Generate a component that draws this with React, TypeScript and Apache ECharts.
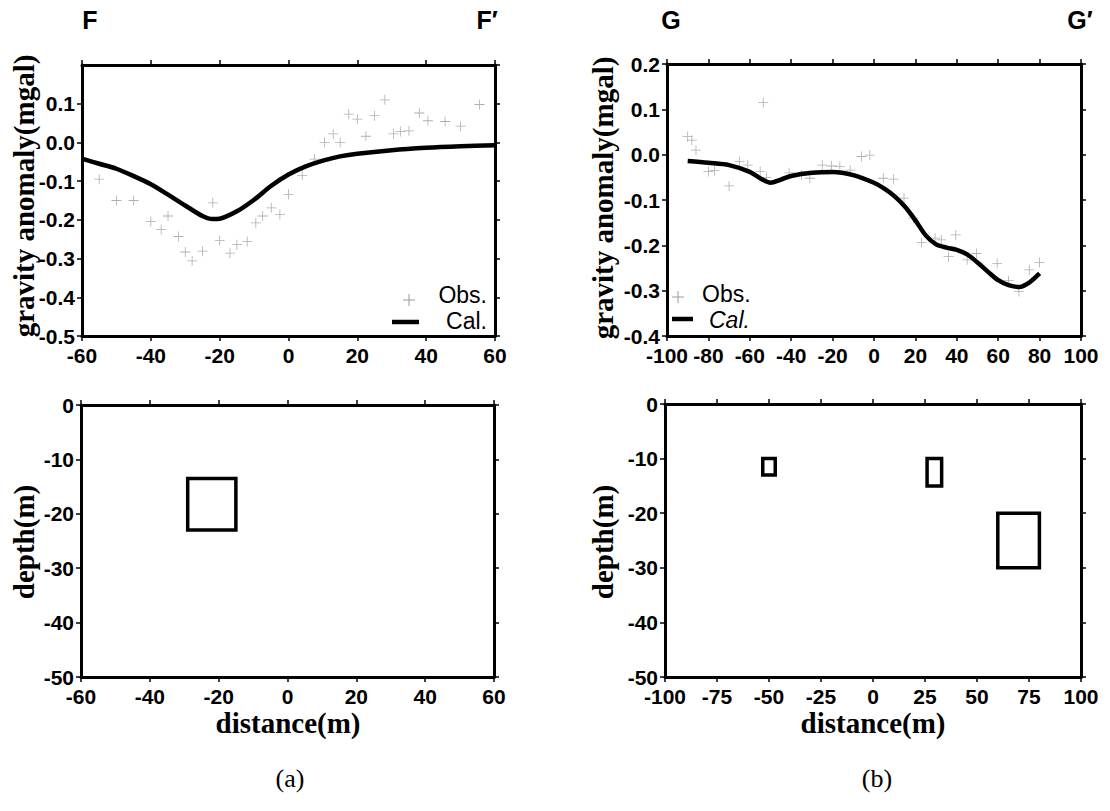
import React, { useEffect, useRef } from "react";
import * as echarts from "echarts";

// ---- Data ----
// Profile F-F' (panel a)
const fCalX = [-60, -55, -50, -45, -40, -35, -30, -25, -22, -20, -15, -10, -5, 0, 5, 10, 15, 20, 30, 40, 50, 60];
const fCalY = [-0.042, -0.055, -0.068, -0.087, -0.108, -0.135, -0.163, -0.19, -0.198, -0.197, -0.178, -0.148, -0.112, -0.083, -0.062, -0.047, -0.036, -0.029, -0.02, -0.014, -0.01, -0.007];
const fObsX = [-55, -50, -45, -40, -37, -35, -32, -30, -28, -25, -22, -20, -17, -15, -12, -9.5, -7.5, -5, -2.5, 0, 4, 7.5, 10.5, 13, 15, 17.5, 20, 22.5, 25, 28, 30.5, 32.5, 35, 38, 40.5, 45.5, 50, 55.5];
const fObsY = [-0.095, -0.15, -0.15, -0.204, -0.225, -0.19, -0.243, -0.283, -0.306, -0.281, -0.156, -0.253, -0.286, -0.264, -0.256, -0.208, -0.19, -0.169, -0.186, -0.134, -0.085, -0.043, 0.0, 0.022, 0.0, 0.073, 0.06, 0.016, 0.069, 0.11, 0.022, 0.028, 0.03, 0.076, 0.056, 0.054, 0.042, 0.098];
// Profile G-G' (panel b)
const gCalX = [-90, -80, -70, -60, -55, -50, -45, -40, -30, -20, -10, 0, 5, 10, 15, 20, 25, 30, 35, 40, 45, 50, 55, 60, 65, 70, 75, 80];
const gCalY = [-0.014, -0.018, -0.023, -0.038, -0.052, -0.062, -0.055, -0.047, -0.04, -0.038, -0.045, -0.062, -0.075, -0.092, -0.115, -0.145, -0.178, -0.198, -0.205, -0.21, -0.22, -0.238, -0.258, -0.277, -0.288, -0.292, -0.282, -0.262];
const gObsX = [-90, -88, -86, -80, -77, -70, -65, -61, -55, -52, -53.5, -41, -35, -31, -25, -20.5, -16.5, -11.5, -6, -2, 4.5, 9.5, 14.5, 19, 23, 29.5, 32.5, 39.5, 36, 45, 49.5, 59.5, 65, 70, 75, 80];
const gObsY = [0.04, 0.032, 0.01, -0.037, -0.035, -0.069, -0.015, -0.023, -0.037, -0.05, 0.115, -0.04, -0.045, -0.052, -0.023, -0.025, -0.026, -0.034, -0.004, -0.001, -0.052, -0.054, -0.096, -0.14, -0.194, -0.184, -0.188, -0.177, -0.225, -0.232, -0.218, -0.24, -0.278, -0.302, -0.254, -0.238];
// Model bodies: [xLeft, xRight, depthTop, depthBottom]
const fBodies = [[-29, -15, -13.5, -23]];
const gBodies = [
  [-53, -47, -10, -13],
  [26, 33, -10, -15],
  [60, 80, -20, -30],
];

const zip = (xs: number[], ys: number[]) => xs.map((x, i) => [x, ys[i]]);

const PLUS = "path://M4.6,0h0.8v4.6h4.6v0.8h-4.6v4.6h-0.8v-4.6h-4.6v-0.8h4.6z";
const TICK_FONT = "Liberation Sans";
const SERIF = "Liberation Serif";
const OBS_COLOR = "#9a9a9a";

function axisPair(
  dim: "x" | "y",
  gridIndex: number,
  min: number,
  max: number,
  interval: number,
  fmt: (v: number) => string,
  extra: any = {}
) {
  const common = {
    type: "value",
    gridIndex,
    min,
    max,
    interval,
    splitLine: { show: false },
    axisLine: { show: true, onZero: false, lineStyle: { color: "#000", width: 3 } },
    axisTick: { show: true, inside: false, length: 5, lineStyle: { color: "#000", width: 1.5 } },
  };
  const main = {
    ...common,
    position: dim === "x" ? "bottom" : "left",
    axisLabel: {
      show: true,
      color: "#000",
      fontFamily: TICK_FONT,
      fontWeight: "bold",
      fontSize: 21,
      lineHeight: 18,
      margin: dim === "x" ? 10 : 7,
      formatter: fmt,
      ...extra,
    },
  };
  const other = {
    ...common,
    position: dim === "x" ? "top" : "right",
    axisLabel: { show: false },
  };
  return [main, other];
}

const fmt1 = (v: number) => v.toFixed(1);
const fmt0 = (v: number) => String(Math.round(v));

export default function App() {
  const ref = useRef<HTMLDivElement>(null);
  useEffect(() => {
    document.body.style.margin = "0";
    const chart = echarts.init(ref.current!, null, { renderer: "svg" });

    const grids = [
      { left: 82, top: 65, width: 413, height: 271 },
      { left: 667, top: 64, width: 414, height: 272 },
      { left: 81, top: 405, width: 413, height: 272 },
      { left: 665, top: 404, width: 416, height: 273 },
    ];

    const xAxes = [
      ...axisPair("x", 0, -60, 60, 20, fmt0),
      ...axisPair("x", 1, -100, 100, 20, fmt0),
      ...axisPair("x", 2, -60, 60, 20, fmt0),
      ...axisPair("x", 3, -100, 100, 25, fmt0),
    ];
    const yAxes = [
      ...axisPair("y", 0, -0.5, 0.2, 0.1, fmt1, { showMaxLabel: false }),
      ...axisPair("y", 1, -0.4, 0.2, 0.1, fmt1),
      ...axisPair("y", 2, -50, 0, 10, fmt0),
      ...axisPair("y", 3, -50, 0, 10, fmt0),
    ];

    const rectRender = (params: any, api: any) => {
      const p1 = api.coord([api.value(0), api.value(2)]);
      const p2 = api.coord([api.value(1), api.value(3)]);
      return {
        type: "rect",
        shape: {
          x: Math.min(p1[0], p2[0]),
          y: Math.min(p1[1], p2[1]),
          width: Math.abs(p2[0] - p1[0]),
          height: Math.abs(p2[1] - p1[1]),
        },
        style: { fill: "none", stroke: "#000", lineWidth: 3.5 },
      };
    };

    const obsStyle = { color: OBS_COLOR };
    const calStyle = { color: "#000", width: 4.5 };

    const series: any[] = [
      {
        name: "Obs.",
        type: "scatter",
        xAxisIndex: 0,
        yAxisIndex: 0,
        symbol: PLUS,
        symbolSize: 10,
        itemStyle: obsStyle,
        data: zip(fObsX, fObsY),
        z: 2,
      },
      {
        name: "Cal.",
        type: "line",
        xAxisIndex: 0,
        yAxisIndex: 0,
        smooth: 0.3,
        showSymbol: false,
        lineStyle: calStyle,
        data: zip(fCalX, fCalY),
        z: 3,
      },
      {
        name: "Obs.",
        type: "scatter",
        xAxisIndex: 2,
        yAxisIndex: 2,
        symbol: PLUS,
        symbolSize: 10,
        itemStyle: obsStyle,
        data: zip(gObsX, gObsY),
        z: 2,
      },
      {
        name: "Cal.",
        type: "line",
        xAxisIndex: 2,
        yAxisIndex: 2,
        smooth: 0.3,
        showSymbol: false,
        lineStyle: calStyle,
        data: zip(gCalX, gCalY),
        z: 3,
      },
      {
        name: "body F",
        type: "custom",
        xAxisIndex: 4,
        yAxisIndex: 4,
        renderItem: rectRender,
        data: fBodies,
        clip: true,
      },
      {
        name: "body G",
        type: "custom",
        xAxisIndex: 6,
        yAxisIndex: 6,
        renderItem: rectRender,
        data: gBodies,
        clip: true,
      },
    ];

    const label = (text: string, x: number, y: number, font: any, extra: any = {}) => ({
      type: "text",
      x,
      y,
      style: {
        text,
        fill: "#000",
        align: "center",
        verticalAlign: "middle",
        ...font,
        ...extra,
      },
    });
    const titleFont = { fontFamily: "Liberation Sans", fontWeight: "bold", fontSize: 25 };
    const axisTitleFont = { fontFamily: SERIF, fontWeight: "bold", fontSize: 29 };
    const legendFont = { fontFamily: "Liberation Sans", fontSize: 23 };

    const cross = (cx: number, cy: number) => [
      { type: "line", shape: { x1: cx - 6, y1: cy, x2: cx + 6, y2: cy }, style: { stroke: OBS_COLOR, lineWidth: 1 } },
      { type: "line", shape: { x1: cx, y1: cy - 6, x2: cx, y2: cy + 6 }, style: { stroke: OBS_COLOR, lineWidth: 1 } },
    ];

    const graphic: any[] = [
      label("F", 90, 20, titleFont),
      label("F\u2032", 487, 20, titleFont),
      label("G", 671, 20, titleFont),
      label("G\u2032", 1080, 20, titleFont),
      { ...label("gravity anomaly(mgal)", 24, 196, axisTitleFont), rotation: Math.PI / 2 },
      { ...label("gravity anomaly(mgal)", 603, 198, axisTitleFont), rotation: Math.PI / 2 },
      { ...label("depth(m)", 24, 542, axisTitleFont), rotation: Math.PI / 2 },
      { ...label("depth(m)", 603, 542, axisTitleFont), rotation: Math.PI / 2 },
      label("distance(m)", 288, 723, axisTitleFont),
      label("distance(m)", 873, 723, axisTitleFont),
      label("(a)", 290, 778, { fontFamily: SERIF, fontSize: 26 }),
      label("(b)", 877, 778, { fontFamily: SERIF, fontSize: 26 }),
      // legend panel a
      ...cross(409, 300),
      label("Obs.", 487, 295, legendFont, { align: "right" }),
      { type: "line", shape: { x1: 392, y1: 322, x2: 419, y2: 322 }, style: { stroke: "#000", lineWidth: 4.5 } },
      label("Cal.", 487, 321, legendFont, { align: "right" }),
      // legend panel b
      ...cross(678, 297),
      label("Obs.", 702, 294, legendFont, { align: "left" }),
      { type: "line", shape: { x1: 672, y1: 319, x2: 693, y2: 319 }, style: { stroke: "#000", lineWidth: 4.5 } },
      label("Cal.", 709, 320, legendFont, { align: "left", fontStyle: "italic" }),
    ];

    chart.setOption({
      animation: false,
      backgroundColor: "#fff",
      grid: grids,
      xAxis: xAxes,
      yAxis: yAxes,
      series,
      graphic,
    });
    return () => chart.dispose();
  }, []);
  return <div ref={ref} style={{ width: 1110, height: 811 }} />;
}
